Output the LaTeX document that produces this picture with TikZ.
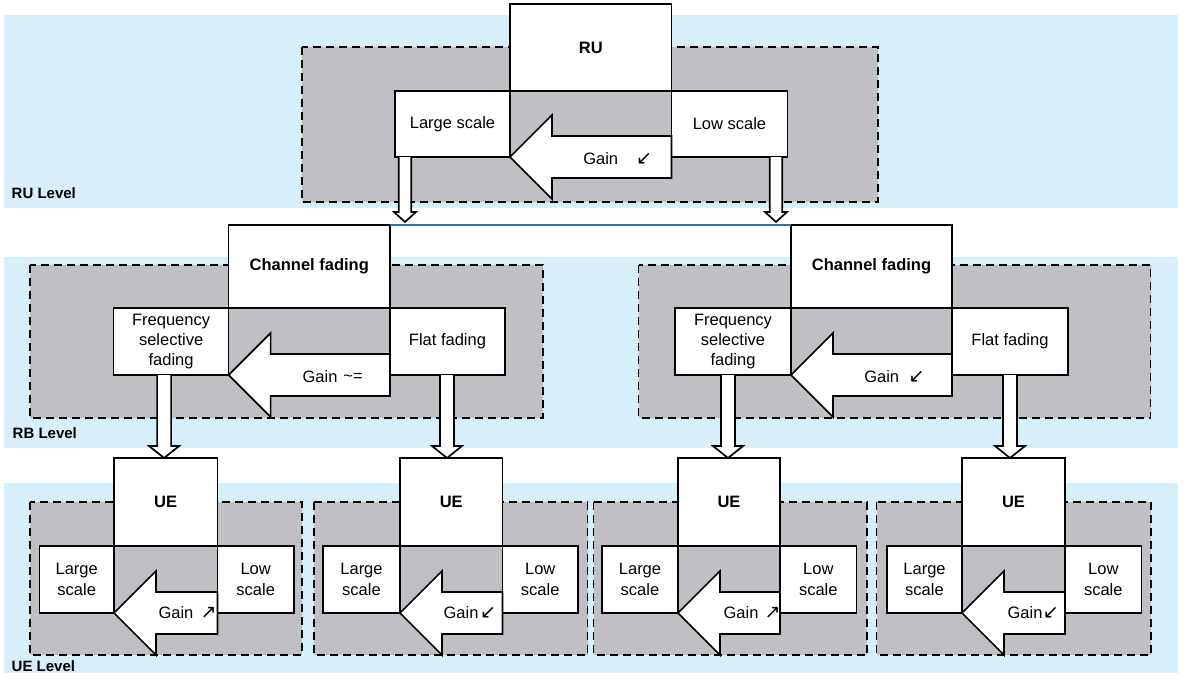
\documentclass[tikz,border=0pt]{standalone}
\usepackage{fontspec}
\setmainfont{Liberation Sans}
\newfontfamily\symfont{DejaVu Sans}
\usetikzlibrary{calc}

\definecolor{bandblue}{HTML}{D7EFFA}
\definecolor{zonegray}{HTML}{C0BFC4}
\definecolor{linkblue}{HTML}{2470B3}

\tikzset{
  band/.style={fill=bandblue, draw=none},
  zone/.style={draw=black, fill=zonegray, line width=1.6pt, dash pattern=on 8pt off 5pt},
  box/.style={draw=black, fill=white, line width=1.7pt, inner sep=0pt, outer sep=0pt,
    align=center, font=\fontsize{16.5}{20.3}\selectfont},
  headbox/.style={box, font=\fontsize{16.5}{20.3}\selectfont\bfseries},
  hollow/.style={draw=black, fill=white, line width=1.7pt, line join=miter},
  gaintext/.style={inner sep=0pt, font=\fontsize{16.5}{20}\selectfont},
  gainsym/.style={inner sep=0pt, font=\symfont\fontsize{19}{19}\selectfont},
  levellabel/.style={inner sep=0pt, anchor=west, font=\fontsize{15}{18}\selectfont\bfseries},
}

% wide hollow arrow: tip at the lower right corner of #1, tail on the west side of #2
\newcommand\gainarrow[2]{%
  \draw[hollow] let \p1=(#1.south east), \p2=(#2.west) in
    (\x1,\y1) -- (\x1+42pt,\y1+42pt) -- (\x1+42pt,\y1+21pt) -- (\x2,\y1+21pt)
    -- (\x2,\y1-21pt) -- (\x1+42pt,\y1-21pt) -- (\x1+42pt,\y1-42pt) -- cycle;}

% narrow hollow down arrow: from #1 down to the top of #2 (less a gap #3);
% #4 shaft half width, #5 head half width, #6 head length
\newcommand\hollowdown[6]{%
  \draw[hollow] let \p1=(#1), \p2=(#2) in
    (\x1-#4,\y1) -- (\x1-#4,\y2+#3+#6) -- (\x1-#5,\y2+#3+#6) -- (\x1,\y2+#3)
    -- (\x1+#5,\y2+#3+#6) -- (\x1+#4,\y2+#3+#6) -- (\x1+#4,\y1);}

\begin{document}
\begin{tikzpicture}[x=1pt, y=-1pt]
\useasboundingbox (0,0) rectangle (1184,678);

% level bands
\fill[band] (4,15) rectangle (1178,208);
\fill[band] (4,257) rectangle (1178,448);
\fill[band] (4,483) rectangle (1178,673);

% dashed zones
\draw[zone] (302,47) rectangle (878,202);
\draw[zone] (30,265) rectangle (543,418);
\draw[zone] (638.5,265) rectangle (1150.6,418);
\draw[zone] (30,502) rectangle (302,655);
\draw[zone] (314,502) rectangle (587.5,655);
\draw[zone] (593.5,502) rectangle (867,655);
\draw[zone] (876.6,502) rectangle (1151,655);

% RU level
\node[headbox, minimum width=161.5pt, minimum height=87pt] (ru) at (590.75,47.5) {RU};
\node[box, minimum width=115pt, minimum height=66pt] (rls) at (452.5,124) {Large scale};
\node[box, minimum width=116pt, minimum height=66pt] (rlo) at (729.5,124) {Low scale};

% RB level
\node[headbox, minimum width=161.4pt, minimum height=83pt] (cf1) at (309.3,266.5) {Channel fading};
\node[box, minimum width=115pt, minimum height=67pt] (fs1) at (171.1,341.5) {Frequency\\selective\\fading};
\node[box, minimum width=115pt, minimum height=67pt] (ff1) at (447.5,341.5) {Flat fading};

\node[headbox, minimum width=161pt, minimum height=83pt] (cf2) at (871.5,266.5) {Channel fading};
\node[box, minimum width=116pt, minimum height=67pt] (fs2) at (733,341.5) {Frequency\\selective\\fading};
\node[box, minimum width=116pt, minimum height=67pt] (ff2) at (1010,341.5) {Flat fading};

% UE level
\node[headbox, minimum width=103.4pt, minimum height=88pt] (ue1) at (165.7,502) {UE};
\node[box, minimum width=74.6pt, minimum height=67pt] (lg1) at (76.7,579.5) {Large\\scale};
\node[box, minimum width=76.6pt, minimum height=67pt] (lo1) at (255.7,579.5) {Low\\scale};

\node[headbox, minimum width=102.5pt, minimum height=88pt] (ue2) at (451.25,502) {UE};
\node[box, minimum width=77pt, minimum height=67pt] (lg2) at (361.5,579.5) {Large\\scale};
\node[box, minimum width=75.5pt, minimum height=67pt] (lo2) at (540.25,579.5) {Low\\scale};

\node[headbox, minimum width=102pt, minimum height=88pt] (ue3) at (729,502) {UE};
\node[box, minimum width=76pt, minimum height=67pt] (lg3) at (640,579.5) {Large\\scale};
\node[box, minimum width=76.6pt, minimum height=67pt] (lo3) at (818.3,579.5) {Low\\scale};

\node[headbox, minimum width=103pt, minimum height=88pt] (ue4) at (1013.5,502) {UE};
\node[box, minimum width=75pt, minimum height=67pt] (lg4) at (924.5,579.5) {Large\\scale};
\node[box, minimum width=76.6pt, minimum height=67pt] (lo4) at (1103.3,579.5) {Low\\scale};

% gain arrows
\gainarrow{rls}{rlo}
\gainarrow{fs1}{ff1}
\gainarrow{fs2}{ff2}
\gainarrow{lg1}{lo1}
\gainarrow{lg2}{lo2}
\gainarrow{lg3}{lo3}
\gainarrow{lg4}{lo4}

% gain labels
\node[gaintext] (g0) at (600.7,159) {Gain};
\node[gainsym] (s0) at (644,159) {↙};
\node[gaintext] (g1) at (320,377) {Gain};
\node[gaintext] (s1) at (353,377) {\textasciitilde=};
\node[gaintext] (g2) at (881.7,377) {Gain};
\node[gainsym] (s2) at (916.5,377) {↙};
\node[gaintext] (g3) at (176,613) {Gain};
\node[gainsym] (s3) at (208.6,613) {↗};
\node[gaintext] (g4) at (461,613) {Gain};
\node[gainsym] (s4) at (488,613) {↙};
\node[gaintext] (g5) at (741,613) {Gain};
\node[gainsym] (s5) at (772.6,613) {↗};
\node[gaintext] (g6) at (1025,613) {Gain};
\node[gainsym] (s6) at (1050.7,613) {↙};

% link between the two channel fading boxes
\draw[linkblue, line width=2.8pt] (cf1.north east) -- (cf2.north west);

% down arrows
\hollowdown{$(rls.south west)+(10,0)$}{cf1.north}{3pt}{6.25pt}{11pt}{10pt}
\hollowdown{$(rlo.south east)+(-11.5,0)$}{cf2.north}{3pt}{6.25pt}{11pt}{10pt}
\hollowdown{$(fs1.south)+(-7,0)$}{ue1.north}{0pt}{7pt}{15pt}{12pt}
\hollowdown{$(ff1.south)+(-0.5,0)$}{ue2.north}{0pt}{7pt}{15pt}{12pt}
\hollowdown{$(fs2.south)+(-5,0)$}{ue3.north}{0pt}{7pt}{15pt}{12pt}
\hollowdown{$(ff2.south)$}{ue4.north}{0pt}{7pt}{15pt}{12pt}

% level labels
\node[levellabel] (lru) at (11.5,193) {RU Level};
\node[levellabel] (lrb) at (12.5,433) {RB Level};
\node[levellabel] (lue) at (11.5,666) {UE Level};
\end{tikzpicture}
\end{document}
